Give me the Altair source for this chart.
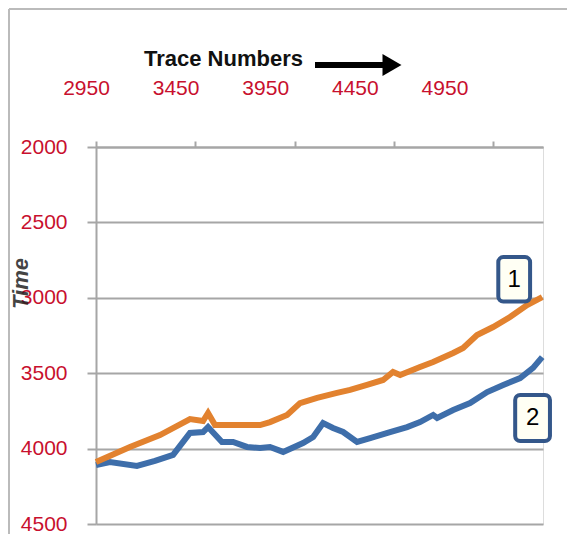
import altair as alt
import pandas as pd

# ---- data ----
x_ticks = [2950, 3450, 3950, 4450, 4950]
y_ticks = [2000, 2500, 3000, 3500, 4000, 4500]

trace_1 = [2950, 3121, 3272, 3423, 3489, 3514, 3549, 3650, 3776, 3826, 3912, 3977, 4063, 4163,
           4229, 4314, 4395, 4445, 4481, 4581, 4647, 4748, 4798, 4868, 4949, 5034, 5120, 5196]
time_1 = [4089, 3989, 3910, 3804, 3817, 3764, 3844, 3844, 3844, 3824, 3777, 3698, 3664, 3631,
          3611, 3578, 3545, 3492, 3512, 3459, 3426, 3366, 3333, 3247, 3194, 3127, 3048, 2995]

trace_2 = [2950, 3020, 3156, 3247, 3338, 3423, 3489, 3514, 3584, 3640, 3710, 3776, 3826, 3892,
           3992, 4043, 4093, 4143, 4194, 4264, 4330, 4430, 4516, 4581, 4647, 4667, 4748, 4833,
           4919, 5000, 5085, 5150, 5196]
time_2 = [4109, 4089, 4115, 4082, 4042, 3896, 3890, 3857, 3956, 3956, 3989, 3996, 3989, 4022,
          3963, 3923, 3830, 3863, 3890, 3956, 3930, 3890, 3857, 3824, 3777, 3797, 3744, 3698,
          3625, 3578, 3532, 3465, 3393]

box_labels = ["1", "2"]
box_x1 = [4975, 5060]
box_x2 = [5135, 5235]
box_y1 = [2730, 3645]
box_y2 = [3025, 3950]
box_tx = [5055, 5148]
box_ty = [2880, 3800]

RED = "#C8102E"
GRID = "#A6A6A6"
LFONT = "Liberation Sans"

xscale = alt.Scale(domain=[2950, 5200], nice=False, zero=False)
yscale = alt.Scale(domain=[2000, 4500], reverse=True, nice=False, zero=False)

df1 = pd.DataFrame({"trace": trace_1, "time": time_1})
df2 = pd.DataFrame({"trace": trace_2, "time": time_2})
dfb = pd.DataFrame({"label": box_labels, "x1": box_x1, "x2": box_x2, "y1": box_y1,
                    "y2": box_y2, "tx": box_tx, "ty": box_ty})

xaxis = alt.Axis(orient="top", values=x_ticks, labels=False, ticks=True, tickSize=6,
                 tickColor=GRID, tickWidth=2, domainColor=GRID, domainWidth=2, grid=False,
                 title=None)
yaxis = alt.Axis(orient="left", values=y_ticks, format="d", grid=True, gridColor=GRID,
                 gridWidth=2, ticks=True, tickSize=9, tickColor=GRID, tickWidth=2,
                 domainColor=GRID, domainWidth=2, labelColor=RED, labelFont=LFONT,
                 labelFontSize=21, labelPadding=20, labelFlush=False, title="Time",
                 titleFont="Liberation Sans",
                 titleFontSize=22, titleFontStyle="italic", titleFontWeight="bold",
                 titleColor="#222222", titleX=-76, titleY=136, titleAngle=270,
                 titleAlign="center", titleBaseline="middle", titleOpacity=0.85)

line2 = alt.Chart(df2).mark_line(color="#3E6EAA", strokeWidth=6).encode(
    x=alt.X("trace:Q", scale=xscale, axis=xaxis),
    y=alt.Y("time:Q", scale=yscale, axis=yaxis),
    order="trace:Q",
)
line1 = alt.Chart(df1).mark_line(color="#E2822F", strokeWidth=6).encode(
    x=alt.X("trace:Q", scale=xscale),
    y=alt.Y("time:Q", scale=yscale),
    order="trace:Q",
)
boxes = alt.Chart(dfb).mark_rect(cornerRadius=5, fill="#FFFFF4", stroke="#34578A",
                                 strokeWidth=4).encode(
    x=alt.X("x1:Q", scale=xscale), x2="x2:Q",
    y=alt.Y("y1:Q", scale=yscale), y2="y2:Q",
)
box_text = alt.Chart(dfb).mark_text(font=LFONT, fontSize=24, color="#000000",
                                    baseline="middle", align="center").encode(
    x=alt.X("tx:Q", scale=xscale), y=alt.Y("ty:Q", scale=yscale), text="label:N"
)

one = pd.DataFrame({"a": [0]})
arrow_shaft = alt.Chart(one).mark_rule(color="#000000", strokeWidth=6).encode(
    x=alt.value(219), x2=alt.value(292), y=alt.value(-82))
arrow_head = alt.Chart(one).mark_point(shape="triangle-right", filled=True, color="#000000",
                                       size=480, opacity=1).encode(
    x=alt.value(296), y=alt.value(-82))
border_top = alt.Chart(one).mark_rule(color="#BBBBBB", strokeWidth=2).encode(
    x=alt.value(-87), x2=alt.value(490), y=alt.value(-138))
border_left = alt.Chart(one).mark_rule(color="#BBBBBB", strokeWidth=2).encode(
    x=alt.value(-87), y=alt.value(-138), y2=alt.value(420))

main = alt.layer(line2, line1, boxes, box_text, arrow_shaft, arrow_head, border_top, border_left)

label_axis = alt.Chart(pd.DataFrame({"v": x_ticks})).mark_point(opacity=0).encode(
    x=alt.X("v:Q", scale=alt.Scale(domain=[2950, 5444], nice=False, zero=False),
            axis=alt.Axis(orient="top", values=x_ticks, format="d", ticks=False, tickSize=0,
                          domain=False, grid=False, labelColor=RED, labelFont=LFONT,
                          labelFontSize=21, labelPadding=49, labelOffset=-10,
                          labelFlush=False, labelBaseline="bottom", title="Trace Numbers",
                          titleFont="Liberation Sans", titleFontSize=22,
                          titleFontWeight="bold", titleColor="#111111",
                          titleX=127, titleY=-89, titleAlign="center",
                          titleBaseline="middle", titleAngle=0))
)

chart = alt.layer(main, label_axis).resolve_scale(x="independent").properties(
    width=447, height=377,
    autosize=alt.AutoSizeParams(type="none"),
    padding={"left": 88, "top": 139, "right": 24, "bottom": 10},
).configure_view(stroke=None).configure(background="#FFFFFF")

chart.save("out.html", embed_options={"renderer": "svg", "actions": False})
